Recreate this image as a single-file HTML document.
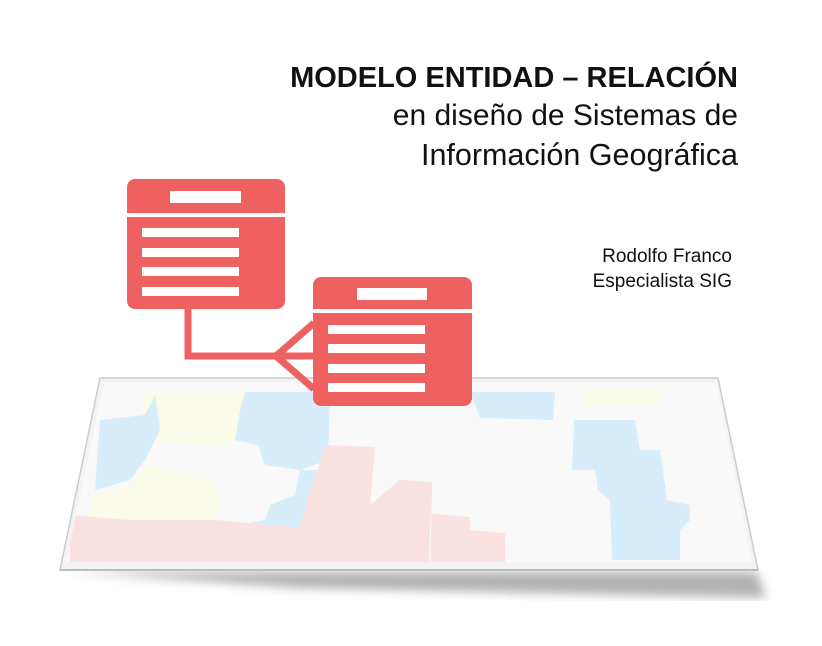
<!DOCTYPE html>
<html><head><meta charset="utf-8"><style>
html,body{margin:0;padding:0;background:#fff;width:822px;height:646px;overflow:hidden;font-family:"Liberation Sans",sans-serif}
.t{position:absolute;right:84px;text-align:right;color:#111;white-space:nowrap;line-height:1}
</style></head><body>
<svg width="822" height="646" style="position:absolute;left:0;top:0">
<defs>
<clipPath id="c"><polygon points="104,382 716,382 752,562 66,562"/></clipPath>
<filter id="b"><feGaussianBlur stdDeviation="5"/></filter>
</defs>
<polygon points="70,572 757,572 766,598 300,588" fill="#aaa" filter="url(#b)" opacity="0.9"/>
<polygon points="100,378 718,378 758,570 60,570" fill="#f3f3f3" stroke="#ccc" stroke-width="1.5"/>
<g clip-path="url(#c)">
<rect x="60" y="378" width="700" height="200" fill="#f9f9f9"/>
<polygon points="140,392 245,392 240,440 210,445 150,440" fill="#fafbe8"/>
<polygon points="245,392 330,392 328,460 300,470 265,465 258,445 235,440 240,410" fill="#d7eefa"/>
<polygon points="100,420 145,415 155,395 160,430 145,460 130,480 95,490" fill="#d7eefa"/>
<polygon points="95,495 130,485 150,465 210,480 222,500 210,530 80,540" fill="#fafbe8"/>
<polygon points="222,528 265,520 270,505 295,495 300,470 330,470 320,500 305,530" fill="#d7eefa"/>
<polygon points="70,583 70,515 130,520 215,520 270,525 300,528 312,483 318,470 325,445 375,447 370,505 400,480 432,482 428,585" fill="#fbe2e2"/>
<polygon points="370,505 400,480 432,482 430,585 480,585 505,585 505,533 470,530 470,517 432,514" fill="#fbe2e2"/>
<polygon points="470,392 555,392 553,420 480,418" fill="#d7eefa"/>
<polygon points="580,390 660,390 660,405 585,405" fill="#fafbe8"/>
<polygon points="574,420 635,420 640,450 660,450 667,500 690,505 690,520 680,530 680,560 612,560 610,500 598,490 595,470 572,470" fill="#d7eefa"/>
</g>
<line x1="60" y1="570" x2="758" y2="570" stroke="#bbb" stroke-width="2"/>
<g fill="#ef6060">
<rect x="127" y="179" width="158" height="130" rx="8"/>
<rect x="313" y="277" width="159" height="129" rx="8"/>
</g>
<g fill="#fff">
<rect x="127" y="213" width="158" height="4"/>
<rect x="170" y="191" width="71" height="12"/>
<rect x="142" y="228" width="97" height="9"/><rect x="142" y="248" width="97" height="9"/>
<rect x="142" y="267" width="97" height="9"/><rect x="142" y="287" width="97" height="9"/>
<rect x="313" y="309" width="159" height="4"/>
<rect x="357" y="288" width="70" height="12"/>
<rect x="328" y="325" width="97" height="9"/><rect x="328" y="344" width="97" height="9"/>
<rect x="328" y="364" width="97" height="9"/><rect x="328" y="383" width="97" height="9"/>
</g>
<g stroke="#ef6060" stroke-width="7" fill="none">
<polyline points="188,309 188,356 314,356"/>
<polyline points="314,323 276,356 314,389"/>
</g>
</svg>
<div class="t" style="top:64px;font-size:29px;font-weight:bold">MODELO ENTIDAD – RELACIÓN</div>
<div class="t" style="top:101px;font-size:30px">en diseño de Sistemas de</div>
<div class="t" style="top:140px;font-size:30.5px">Información Geográfica</div>
<div class="t" style="top:247px;font-size:19px;right:90px">Rodolfo Franco</div>
<div class="t" style="top:272px;font-size:19px;right:90px">Especialista SIG</div>
</body></html>
